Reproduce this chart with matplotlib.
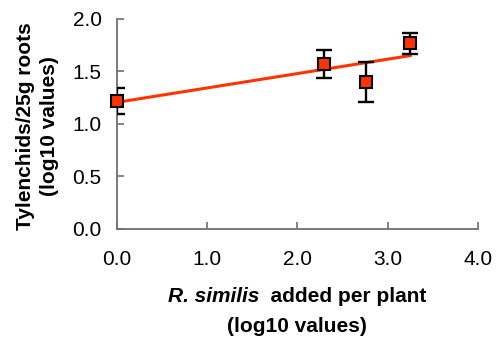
import numpy as np
import matplotlib
matplotlib.use("Agg")
import matplotlib.pyplot as plt

plt.rcParams['font.family'] = ['Liberation Sans', 'DejaVu Sans']

x_vals = [0.0, 2.29, 2.76, 3.25]
y_vals = [1.218, 1.569, 1.403, 1.769]
y_err = [0.12, 0.135, 0.19, 0.10]
x_ticks = [0.0, 1.0, 2.0, 3.0, 4.0]
y_ticks = [0.0, 0.5, 1.0, 1.5, 2.0]

RED = '#FF3300'
FS = 15
fig = plt.figure(figsize=(4.97, 3.42), dpi=100)
W, H = 497.0, 342.0
ax = fig.add_axes([117 / W, 1 - 228.7 / H, (477.7 - 117) / W, (228.7 - 19) / H])

slope, intercept = np.polyfit(x_vals, y_vals, 1)
xl = np.array([min(x_vals), max(x_vals)])
ax.plot(xl, intercept + slope * xl, color=RED, lw=2.2, zorder=2)
ax.errorbar(x_vals, y_vals, yerr=y_err, fmt='none', ecolor='black',
            elinewidth=1.7, capsize=5.5, capthick=1.7, zorder=3)
ax.plot(x_vals, y_vals, 's', ms=9, mfc=RED, mec='black', mew=1.5, zorder=4, clip_on=False)

ax.set_xlim(0, 4)
ax.set_ylim(0, 2)
ax.set_xticks(x_ticks)
ax.set_xticklabels([f"{v:.1f}" for v in x_ticks])
ax.set_yticks(y_ticks)
ax.set_yticklabels([f"{v:.1f}" for v in y_ticks])
for s in ['top', 'right']:
    ax.spines[s].set_visible(False)
for s in ['left', 'bottom']:
    ax.spines[s].set_color('#707070')
    ax.spines[s].set_linewidth(1.3)
ax.tick_params(direction='in', length=5, width=1.2, color='#707070',
               labelsize=FS, labelcolor='black')
ax.tick_params(axis='x', pad=15)
ax.tick_params(axis='y', pad=11)

# y label
fig.text(37.5 / W, 1 - 126 / H, "Tylenchids/25g roots\n(log10 values)", fontsize=FS,
         fontweight='bold', rotation=90, ha='center', va='center',
         multialignment='center', linespacing=1.35)

# x label with italic part
fig.canvas.draw()
r = fig.canvas.get_renderer()
t1 = fig.text(0, 0, "R. similis", fontsize=FS, fontweight='bold', style='italic', va='center')
t2 = fig.text(0, 0, "  added per plant", fontsize=FS, fontweight='bold', va='center')
w1 = t1.get_window_extent(r).width
w2 = t2.get_window_extent(r).width
cx = 297.0
x0 = cx - (w1 + w2) / 2
ypx = H - 296
t1.set_position((x0 / W, ypx / H))
t2.set_position(((x0 + w1) / W, ypx / H))
fig.text(cx / W, 1 - 326 / H, "(log10 values)", fontsize=FS,
         fontweight='bold', ha='center', va='center')

fig.savefig("out.png", dpi=100)
